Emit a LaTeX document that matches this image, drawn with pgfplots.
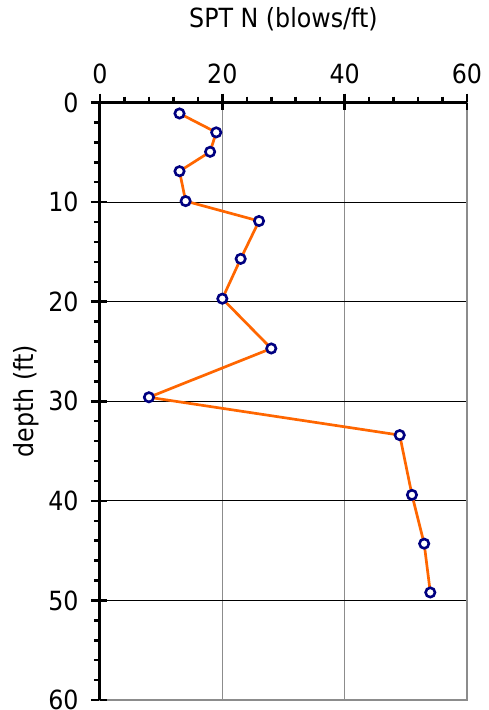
\documentclass[border=0pt]{standalone}
\usepackage{fontspec}
\setmainfont{DejaVu Sans Condensed}
\usepackage{pgfplots}
\pgfplotsset{compat=1.18}

\definecolor{sptline}{HTML}{FF6600}
\definecolor{marknavy}{HTML}{000080}
\definecolor{framegray}{HTML}{8C8C8C}

\begin{document}
\begin{tikzpicture}
\begin{axis}[
  scale only axis,
  width=367bp, height=597.5bp,
  xmin=0, xmax=60, ymin=0, ymax=60,
  y dir=reverse,
  clip=false,
  xtick={0,20,40,60}, ytick={0,10,...,60},
  minor x tick num=4, minor y tick num=4,
  xtick pos=right, xticklabel pos=right,
  ytick pos=left, yticklabel pos=left,
  tick align=outside,
  major tick length=9bp, minor tick length=6bp,
  every tick/.style={black, line width=2.5bp},
  extra x ticks={0,20,40,60}, extra x tick labels={},
  extra y ticks={0,10,...,60}, extra y tick labels={},
  extra tick style={tick align=inside, grid=none, major tick length=7.5bp},
  xmajorgrids, ymajorgrids,
  x grid style={framegray, line width=1.5bp},
  y grid style={black, line width=1bp},
  axis line style={framegray, line width=2bp},
  /pgf/number format/assume math mode=true,
  tick label style={font=\fontsize{26.5}{31}\selectfont},
  xticklabel style={yshift=6bp},
  yticklabel style={xshift=-9bp},
  label style={font=\fontsize{26.5}{31}\selectfont},
  xlabel={SPT N (blows/ft)},
  ylabel={depth (ft)},
  xlabel shift=17bp,
  ylabel shift=-7bp,
]
\addplot[sptline, line width=2.7bp,
  mark=*, mark size=4.7bp,
  mark options={fill=white, draw=marknavy, line width=2.6bp}]
  table {
N   depth
13  1.1
19  3.0
18  4.95
13  6.9
14  9.9
26  11.9
23  15.7
20  19.7
28  24.7
8   29.6
49  33.4
51  39.4
53  44.3
54  49.2
};
\draw[black, line width=3bp] (axis cs:0,60) -- (axis cs:0,0) -- (axis cs:60,0);
\end{axis}
\pgfresetboundingbox
\useasboundingbox (current axis.south west) ++(-100bp,-10bp) rectangle ++(489bp,710bp);
\end{tikzpicture}
\end{document}
